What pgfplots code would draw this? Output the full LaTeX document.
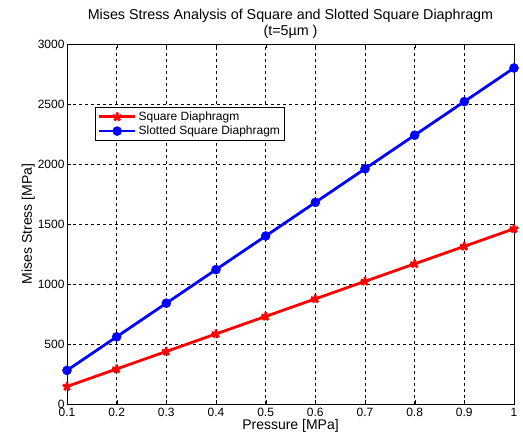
\documentclass[border=0pt]{standalone}
\usepackage{fontspec}
\setmainfont{Liberation Sans}
\usepackage{pgfplots}
\pgfplotsset{compat=1.18}
\begin{document}
\begin{tikzpicture}[x=1pt,y=1pt]
\useasboundingbox (-67,-37) rectangle (456,404);
\begin{axis}[
  at={(0,0)}, anchor=south west,
  scale only axis, width=447pt, height=360pt,
  xmin=0.1, xmax=1, ymin=0, ymax=3000,
  xtick={0.1,0.2,0.3,0.4,0.5,0.6,0.7,0.8,0.9,1},
  xticklabels={0.1,0.2,0.3,0.4,0.5,0.6,0.7,0.8,0.9,1},
  ytick={0,500,1000,1500,2000,2500,3000},
  yticklabels={0,500,1000,1500,2000,2500,3000},
  tick align=inside, tick pos=both,
  major tick length=4pt,
  grid=major,
  major grid style={black, dashed, line width=0.5pt},
  axis line style={black, line width=0.7pt},
  tick style={black},
  ticklabel style={font=\fontsize{12}{14}\selectfont},
  xticklabel style={yshift=-1pt},
  yticklabel style={xshift=1pt},
  xlabel={Pressure [MPa]},
  ylabel={Mises Stress [MPa]},
  label style={font=\fontsize{14}{16}\selectfont},
  xlabel style={yshift=5pt},
  ylabel style={yshift=-4pt},
  title={Mises Stress Analysis of Square and Slotted Square Diaphragm\\(t=5µm )},
  title style={font=\fontsize{14.3}{15.5}\selectfont, align=center, yshift=-4pt},
  legend image code/.code={\draw[mark repeat=2,mark phase=2,#1] plot coordinates {(0pt,0pt) (18pt,0pt) (36pt,0pt)};},
  legend style={at={(0.0626,0.825)}, anchor=north west, draw=black, line width=0.6pt,
     font=\fontsize{12}{14}\selectfont, row sep=0pt, inner sep=2.5pt},
  legend cell align=left,
]
\addplot[red, line width=2.8pt, mark=star, mark size=4.5pt, mark options={line width=2.8pt}] coordinates {
(0.1,146) (0.2,292) (0.3,438) (0.4,584) (0.5,730) (0.6,876) (0.7,1022) (0.8,1168) (0.9,1314) (1.0,1460)};
\addlegendentry{Square Diaphragm}
\addplot[blue, line width=2.8pt, mark=*, mark size=4.5pt, mark options={fill=blue, line width=0.5pt}] coordinates {
(0.1,280) (0.2,560) (0.3,840) (0.4,1120) (0.5,1400) (0.6,1680) (0.7,1960) (0.8,2240) (0.9,2520) (1.0,2800)};
\addlegendentry{Slotted Square Diaphragm}
\end{axis}
\end{tikzpicture}
\end{document}
